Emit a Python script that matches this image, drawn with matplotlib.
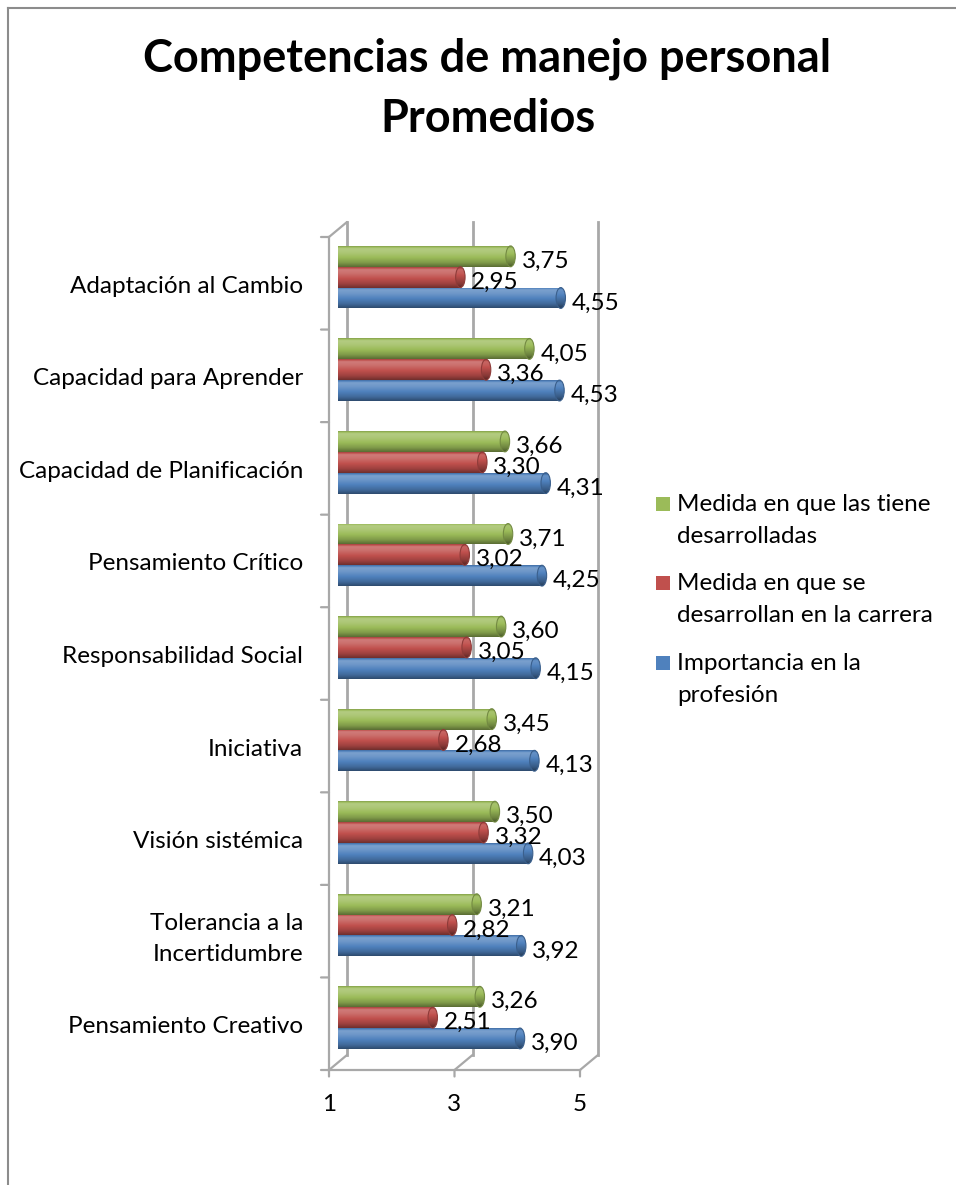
import numpy as np
import matplotlib
matplotlib.use("Agg")
import matplotlib.pyplot as plt
from matplotlib.colors import to_rgb
from matplotlib.patches import Ellipse, Rectangle, ConnectionPatch
from matplotlib.lines import Line2D
from matplotlib.transforms import offset_copy, ScaledTranslation

plt.rcParams['font.family'] = ['Lato', 'DejaVu Sans']

# ---- datos ----
categorias = ["Adaptación al Cambio", "Capacidad para Aprender",
              "Capacidad de Planificación", "Pensamiento Crítico",
              "Responsabilidad Social", "Iniciativa", "Visión sistémica",
              "Tolerancia a la\nIncertidumbre", "Pensamiento Creativo"]
tiene = [3.75, 4.05, 3.66, 3.71, 3.60, 3.45, 3.50, 3.21, 3.26]
carrera = [2.95, 3.36, 3.30, 3.02, 3.05, 2.68, 3.32, 2.82, 2.51]
importancia = [4.55, 4.53, 4.31, 4.25, 4.15, 4.13, 4.03, 3.92, 3.90]

series = ["Medida en que las tiene\ndesarrolladas",
          "Medida en que se\ndesarrollan en la carrera",
          "Importancia en la\nprofesión"]
colores = ["#9BBB59", "#C0504D", "#4F81BD"]
ticks_x = [1, 3, 5]

FS = 17.5
W, H = 956, 1185
fig = plt.figure(figsize=(W / 100, H / 100), dpi=100)

# marco del grafico
fig.add_artist(Line2D([8 / W, 8 / W], [0, 1 - 8 / H], color="#8C8C8C", lw=1.5))
fig.add_artist(Line2D([8 / W, 1], [1 - 8 / H, 1 - 8 / H], color="#8C8C8C", lw=1.5))

fig.text(487 / W, 1 - 72 / H, "Competencias de manejo personal", ha="center",
         va="baseline", fontsize=32.5, fontweight="bold")
fig.text(488 / W, 1 - 132 / H, "Promedios", ha="center", va="baseline",
         fontsize=32.5, fontweight="bold")

ax = fig.add_axes([338 / W, 122.5 / H, 251 / W, 833 / H])
ax.set_xlim(1, 5)
ax.set_ylim(-0.5, 8.5)
for s in ax.spines.values():
    s.set_visible(False)
ax.patch.set_visible(False)

# planos delantero y trasero de la caja 3D
front = offset_copy(ax.transData, fig=fig, x=-9, y=-7.5, units="dots")
back = offset_copy(ax.transData, fig=fig, x=9, y=7.5, units="dots")
tick_l = offset_copy(ax.transData, fig=fig, x=-17, y=-7.5, units="dots")
tick_d = offset_copy(ax.transData, fig=fig, x=-9, y=-14, units="dots")

grid_c = "#A8A8A8"
for xv in ticks_x:
    ax.plot([xv, xv], [-0.5, 8.5], color=grid_c, lw=2, transform=back,
            clip_on=False, zorder=1)
ax.plot([1, 1], [-0.5, 8.5], color=grid_c, lw=1.6, transform=front,
        clip_on=False, zorder=1)
ax.plot([1, 5], [-0.5, -0.5], color=grid_c, lw=1.6, transform=front,
        clip_on=False, zorder=1)


def conecta(p, ta, tb):
    cp = ConnectionPatch(xyA=p, coordsA=ta, xyB=p, coordsB=tb,
                         color=grid_c, lw=1.6, zorder=1)
    fig.add_artist(cp)


conecta((1, 8.5), front, back)
for xv in ticks_x:
    conecta((xv, -0.5), front, back)
    conecta((xv, -0.5), front, tick_d)
for k in range(len(categorias) + 1):
    conecta((1, k - 0.5), tick_l, front)


def sombreado(color, extra=0.0, n=64):
    # perfil vertical de un cilindro: brillo arriba, oscuro abajo
    t = np.linspace(0, 1, n)
    s = np.interp(t, [0, 0.12, 0.3, 0.55, 0.8, 1.0],
                  [-0.15, 0.25, 0.18, 0.0, -0.18, -0.42]) + extra
    c = np.array(to_rgb(color))
    out = np.empty((n, 1, 3))
    for i, v in enumerate(s):
        out[i, 0] = c + (1 - c) * v if v > 0 else c * (1 + v)
    return out


def cilindro(v, yc, h, color):
    bar = ax.barh(yc, v - 1, left=1, height=h, color=color, zorder=3)[0]
    im = ax.imshow(sombreado(color), extent=(1, v, yc - h / 2, yc + h / 2),
                   aspect="auto", origin="upper", zorder=3.1,
                   interpolation="bilinear")
    im.set_clip_path(bar)
    tapa = Ellipse((v, yc), 0.15, h, facecolor="none",
                   edgecolor=sombreado(color, -0.2)[40, 0], lw=0.8, zorder=3.3)
    ax.add_patch(tapa)
    imt = ax.imshow(sombreado(color, -0.12),
                    extent=(v - 0.075, v + 0.075, yc - h / 2, yc + h / 2),
                    aspect="auto", origin="upper", zorder=3.2,
                    interpolation="bilinear")
    imt.set_clip_path(tapa)
    ax.annotate(f"{v:.2f}".replace(".", ","), (v, yc), xytext=(11, -5),
                textcoords="offset pixels", ha="left", va="center",
                fontsize=FS, zorder=5)


n = len(categorias)
pos = [n - 1 - i for i in range(n)]
offsets = [0.21, -0.015, -0.24]
alto = 0.225
for i in range(n):
    for vals, off, col in zip([tiene, carrera, importancia], offsets, colores):
        cilindro(vals[i], pos[i] + off, alto, col)

ax.set_xlim(1, 5)
ax.set_ylim(-0.5, 8.5)

ax.set_yticks(pos, categorias, fontsize=FS, linespacing=1.55)
ax.tick_params(axis="y", length=0, pad=25)
ax.set_xticks(ticks_x, [str(t) for t in ticks_x], fontsize=FS)
ax.tick_params(axis="x", length=0, pad=23)
for lab in ax.get_yticklabels():
    lab.set_transform(lab.get_transform() +
                      ScaledTranslation(0, -8.5 / 100, fig.dpi_scale_trans))
for lab in ax.get_xticklabels():
    lab.set_transform(lab.get_transform() +
                      ScaledTranslation(-9 / 100, 0, fig.dpi_scale_trans))

# leyenda
base_y = [511, 590, 670]
for nombre, col, by in zip(series, colores, base_y):
    fig.add_artist(Rectangle((656 / W, 1 - by / H), 14 / W, 14 / H,
                             facecolor=col, edgecolor="none"))
    for j, linea in enumerate(nombre.split("\n")):
        fig.text(677 / W, 1 - (by + 32 * j) / H, linea, ha="left",
                 va="baseline", fontsize=FS)

fig.savefig("out.png", dpi=100)
